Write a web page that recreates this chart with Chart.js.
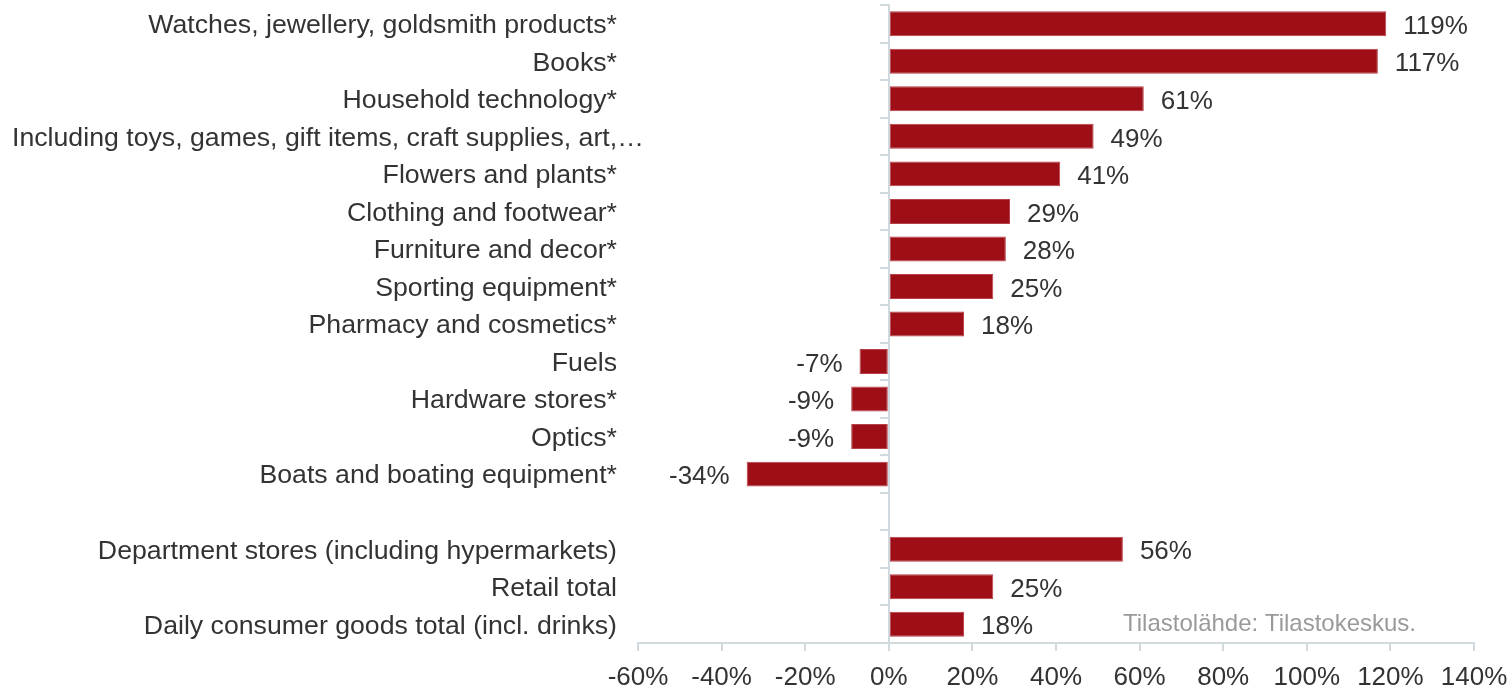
<!DOCTYPE html>
<html>
<head>
<meta charset="utf-8">
<script src="https://cdn.jsdelivr.net/npm/chart.js@4.4.0/dist/chart.umd.min.js"></script>
<style>
html,body{margin:0;padding:0;background:#fff;}
#wrap{width:1512px;height:690px;position:relative;}
</style>
</head>
<body>
<div id="wrap"><canvas id="c" width="1512" height="690"></canvas></div>
<script>
const categories = [
  "Watches, jewellery, goldsmith products*",
  "Books*",
  "Household technology*",
  "Including toys, games, gift items, craft supplies, art,\u2026",
  "Flowers and plants*",
  "Clothing and footwear*",
  "Furniture and decor*",
  "Sporting equipment*",
  "Pharmacy and cosmetics*",
  "Fuels",
  "Hardware stores*",
  "Optics*",
  "Boats and boating equipment*",
  "",
  "Department stores (including hypermarkets)",
  "Retail total",
  "Daily consumer goods total (incl. drinks)"
];
const values = [119, 117, 61, 49, 41, 29, 28, 25, 18, -7, -9, -9, -34, null, 56, 25, 18];
const xTicks = [-60, -40, -20, 0, 20, 40, 60, 80, 100, 120, 140];
const sourceNote = "Tilastolähde: Tilastokeskus.";
const truncatedIndex = 3; // the long, truncated category label overflows to the right in the original

const BAR = '#9e0e16';
const AXIS = '#d0d9de';
const TEXT = '#333333';
const FONT = "'Liberation Sans', Arial, sans-serif";
const CAT_SIZE = 26.7;

const valueLabels = {
  id: 'valueLabels',
  afterDatasetsDraw(chart) {
    const ctx = chart.ctx;
    const meta = chart.getDatasetMeta(0);
    ctx.save();
    ctx.font = "26px " + FONT;
    ctx.fillStyle = TEXT;
    ctx.textBaseline = 'middle';
    meta.data.forEach((el, i) => {
      const v = values[i];
      if (v === null || v === undefined) return;
      const txt = Math.round(v) + '%';
      if (v >= 0) {
        ctx.textAlign = 'left';
        ctx.fillText(txt, el.x + 17, el.y + 3);
      } else {
        ctx.textAlign = 'right';
        ctx.fillText(txt, el.x - 17, el.y + 3);
      }
    });
    // long category label, drawn on its own row
    const ys = chart.scales.y;
    ctx.font = CAT_SIZE + "px " + FONT;
    ctx.textAlign = 'left';
    ctx.fillText(categories[truncatedIndex], 12, ys.getPixelForValue(truncatedIndex) + 2);
    // source note
    ctx.font = "24px " + FONT;
    ctx.fillStyle = '#9a9a9a';
    ctx.textAlign = 'left';
    ctx.fillText(sourceNote, 1123, 624);
    ctx.restore();
  }
};

new Chart(document.getElementById('c'), {
  type: 'bar',
  data: {
    labels: categories,
    datasets: [{
      data: values,
      backgroundColor: BAR,
      borderColor: '#b8424a',
      borderWidth: 1,
      borderSkipped: false,
      barPercentage: 0.665,
      categoryPercentage: 1.0
    }]
  },
  options: {
    indexAxis: 'y',
    responsive: false,
    animation: false,
    devicePixelRatio: 1,
    layout: { padding: { top: 5, right: 38, bottom: 0, left: 0 } },
    plugins: { legend: { display: false }, tooltip: { enabled: false } },
    scales: {
      x: {
        type: 'linear',
        min: -60, max: 140,
        afterBuildTicks: s => { s.ticks = xTicks.map(v => ({ value: v })); },
        afterFit: s => { s.height = 47; s.paddingLeft = 0; s.paddingRight = 0; },
        grid: { drawOnChartArea: false, drawTicks: true, tickLength: 8, color: AXIS, lineWidth: 2 },
        border: { display: true, color: AXIS, width: 2 },
        ticks: {
          color: TEXT,
          font: { family: FONT, size: 26 },
          padding: 11,
          maxRotation: 0,
          autoSkip: false,
          callback: v => v + '%'
        }
      },
      y: {
        type: 'category',
        offset: true,
        afterFit: s => { s.width = 638; s.paddingTop = 0; s.paddingBottom = 0; },
        grid: { display: false, drawTicks: false },
        border: { display: false },
        ticks: {
          color: TEXT,
          font: { family: FONT, size: CAT_SIZE },
          padding: 21,
          labelOffset: 2,
          autoSkip: false,
          callback: function(v, i) { return i === truncatedIndex ? '' : categories[i]; }
        }
      },
      y2: {
        type: 'category',
        axis: 'y',
        labels: categories,
        position: { x: 0 },
        offset: true,
        grid: { display: true, drawOnChartArea: false, offset: true, drawTicks: true, tickLength: 8, color: AXIS, lineWidth: 2 },
        border: { display: true, color: AXIS, width: 2 },
        ticks: { display: false }
      }
    }
  },
  plugins: [valueLabels]
});
</script>
</body>
</html>
